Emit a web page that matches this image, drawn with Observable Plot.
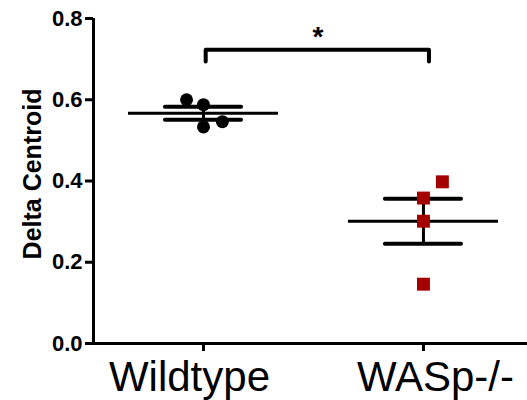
<!DOCTYPE html>
<html>
<head>
<meta charset="utf-8">
<script src="https://cdn.jsdelivr.net/npm/d3@7"></script>
<script src="https://cdn.jsdelivr.net/npm/@observablehq/plot@0.6"></script>
<style>
  html, body { margin: 0; padding: 0; background: #fff; }
</style>
</head>
<body>
<div id="chart"></div>
<script>
// ---- data ----
const groups = ["Wildtype", "WASp-/-"];
const wildtype = [0.600, 0.588, 0.533, 0.546];
const wildtypeSpread = [-0.077, 0, 0, 0.086];   // horizontal scatter offsets (category units)
const wasp = [0.398, 0.358, 0.301, 0.146];
const waspSpread = [0.086, 0, 0, 0];
const yTicks = [0, 0.2, 0.4, 0.6, 0.8];
const yLabel = "Delta Centroid";
const sigLabel = "*";
const sigLevel = 0.723;      // bracket height
const sigDrop = 0.694;       // bracket leg end

// ---- derived ----
const series = [wildtype, wasp];
const spreads = [wildtypeSpread, waspSpread];
const points = series.flatMap((vals, g) =>
  vals.map((v, i) => ({group: groups[g], gi: g + 1, x: g + 1 + spreads[g][i], y: v})));
const stats = series.map((vals, g) => {
  const m = d3.mean(vals);
  const sem = d3.deviation(vals) / Math.sqrt(vals.length);
  return {gi: g + 1, mean: m, lo: m - sem, hi: m + sem};
});
const meanHalf = 0.341, semHalf = 0.173;
const bracket = [
  {x: 1.01, y: sigDrop}, {x: 1.01, y: sigLevel}, {x: 2.025, y: sigLevel}, {x: 2.025, y: sigDrop}
];
const xDomain = [0.5, 2.473];

const chart = Plot.plot({
  width: 527,
  height: 400,
  marginLeft: 93,
  marginRight: 0,
  marginTop: 18,
  marginBottom: 57,
  style: {fontFamily: "Arial, 'Liberation Sans', sans-serif", background: "#fff", color: "#000"},
  x: {type: "linear", domain: xDomain},
  y: {domain: [0, 0.8]},
  marks: [
    Plot.axisY({ticks: yTicks, tickFormat: d3.format(".1f"), tickSize: 8, tickPadding: 3,
      fontSize: 22, fontWeight: "bold", strokeWidth: 3, label: null}),
    Plot.axisX({ticks: [1, 2], tickFormat: () => "", tickSize: 8, strokeWidth: 3, label: null}),
    Plot.text([groups[0]], {x: () => 1, frameAnchor: "bottom", lineAnchor: "top", dy: 18,
      dx: -14, fontSize: 42, fill: "#000"}),
    Plot.text([groups[1]], {x: () => 2, frameAnchor: "bottom", lineAnchor: "top", dy: 18,
      dx: 12, fontSize: 42, fill: "#000"}),
    Plot.ruleX([xDomain[0]], {y1: 0, y2: 0.8, strokeWidth: 3, stroke: "#000"}),
    Plot.ruleY([0], {strokeWidth: 3, stroke: "#000"}),
    Plot.text([yLabel], {frameAnchor: "left", textAnchor: "middle", lineAnchor: "middle",
      rotate: -90, dx: -61, dy: -7, fontSize: 25, fontWeight: "bold", fill: "#000"}),
    // mean lines
    Plot.ruleY(stats, {y: "mean", x1: d => d.gi - meanHalf, x2: d => d.gi + meanHalf,
      strokeWidth: 3, stroke: "#000"}),
    // SEM connector
    Plot.ruleX(stats, {x: "gi", y1: "lo", y2: "hi", strokeWidth: 3, stroke: "#000"}),
    // SEM bars
    Plot.ruleY(stats, {y: "hi", x1: d => d.gi - semHalf, x2: d => d.gi + semHalf,
      strokeWidth: 4, stroke: "#000", strokeLinecap: "round"}),
    Plot.ruleY(stats, {y: "lo", x1: d => d.gi - semHalf, x2: d => d.gi + semHalf,
      strokeWidth: 4, stroke: "#000", strokeLinecap: "round"}),
    // points
    Plot.dot(points.filter(d => d.gi === 1), {x: "x", y: "y", r: 6.5, fill: "#000", stroke: null}),
    Plot.dot(points.filter(d => d.gi === 2), {x: "x", y: "y", r: 7.3, symbol: "square",
      fill: "#a50000", stroke: null}),
    // significance bracket
    Plot.line(bracket, {x: "x", y: "y", strokeWidth: 4, stroke: "#000",
      strokeLinecap: "round", strokeLinejoin: "round"}),
    Plot.text([sigLabel], {x: () => 1.52, y: () => sigLevel, dy: -13, fontSize: 28,
      fontWeight: "bold", fill: "#000", lineAnchor: "middle"})
  ]
});
document.getElementById("chart").appendChild(chart);
</script>
</body>
</html>
